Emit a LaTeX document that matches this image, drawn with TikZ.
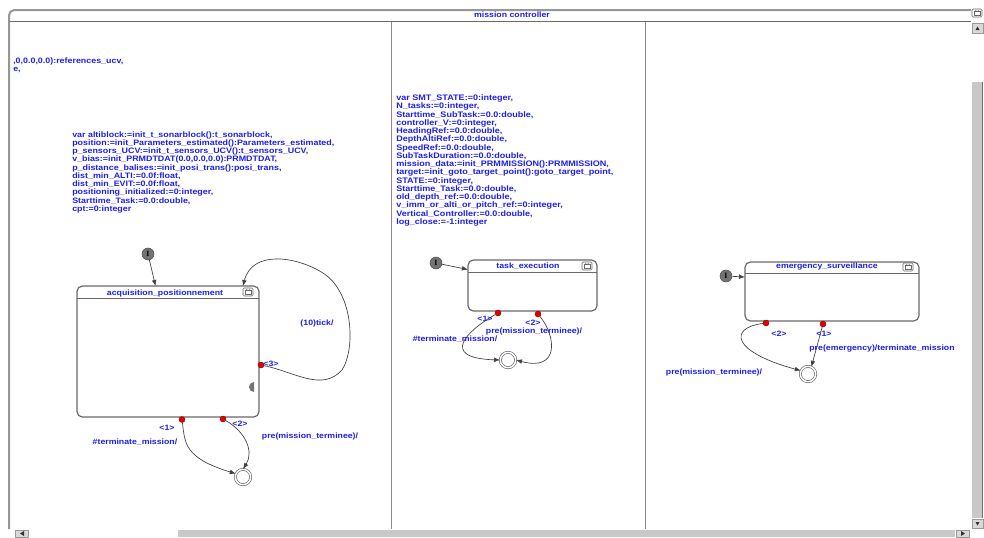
\documentclass[tikz,border=0pt]{standalone}
\usepackage{fontspec}
\usepackage{graphicx}
\setmainfont{Liberation Sans}
\newfontfamily\serifI{Liberation Serif}
\usetikzlibrary{arrows.meta}
\definecolor{txtblue}{RGB}{30,30,235}
\definecolor{boxgray}{RGB}{105,105,105}
\definecolor{framegray}{RGB}{150,150,150}
\definecolor{thumbgray}{RGB}{200,200,200}
\definecolor{initgray}{RGB}{115,115,115}
\definecolor{dotred}{RGB}{230,0,0}
\newcommand\hx[1]{\scalebox{1.13}[1]{#1}}
\newcommand\vlines[1]{\hx{\begin{tabular}{@{}l@{}}#1\end{tabular}}}
\begin{document}
\begin{tikzpicture}[x=0.75pt,y=-0.75pt,
  lbl/.style={text=txtblue,font=\fontsize{5.8}{6.5}\selectfont\bfseries,inner sep=0pt},
  varblock/.style={text=txtblue,anchor=north west,inner sep=0pt},
  statebox/.style={draw=boxgray,line width=0.9pt,rounded corners=4pt,inner sep=0pt},
  initnode/.style={circle,fill=initgray,draw=black!70,line width=0.4pt,minimum size=9pt,inner sep=0pt,font=\serifI\bfseries\fontsize{6}{6}\selectfont},
  finalnode/.style={circle,draw=boxgray,line width=0.5pt,double=white,double distance=1.1pt,minimum size=11.5pt,inner sep=0pt},
  reddot/.style={circle,fill=dotred,draw=red!50!black,line width=0.3pt,minimum size=4.5pt,inner sep=0pt},
  trans/.style={draw=black!75,line width=0.5pt,-{Latex[length=4.5pt,width=3.5pt]}},
  ico/.pic={\draw[boxgray,line width=0.4pt,rounded corners=1pt,fill=white] (-5,-4) rectangle (5,4);
            \draw[boxgray,line width=0.4pt] (-3,-1.5) rectangle (3,2.5); \draw[boxgray,line width=0.3pt] (-2,-3) -- (0,-1.5) -- (2,-3);}
]
\useasboundingbox (0,0) rectangle (984,537);
\fill[white] (0,0) rectangle (984,537);

% ---------- window frame ----------
\draw[framegray,line width=1.5pt,rounded corners=4pt] (9,529) -- (9,10) -- (971,10);
\draw[boxgray,line width=0.6pt] (10,21.5) -- (971,21.5);
\node[lbl] (title) at (512,15) {\hx{mission controller}};
\pic at (977,13) {ico};
\draw[black!45,line width=0.4pt] (391,22) -- (391,529);
\draw[black!45,line width=0.4pt] (645,22) -- (645,529);
% vertical scrollbar
\fill[thumbgray] (972,82) rectangle (982,518);
\draw[black!55,line width=0.5pt] (982,82) -- (982,518);
\draw[black!40,line width=0.4pt,fill=thumbgray!70] (972,23) rectangle (983,33);
\fill[black!80] (975.5,30) -- (979.5,30) -- (977.5,26.5) -- cycle;
\draw[black!40,line width=0.4pt,fill=thumbgray!70] (972,519) rectangle (983,528);
\fill[black!80] (975.5,522) -- (979.5,522) -- (977.5,525.5) -- cycle;
% horizontal scrollbar
\fill[thumbgray] (178,530) rectangle (955,537);
\draw[black!40,line width=0.4pt,fill=thumbgray!70] (15,530) rectangle (28,537);
\fill[black!80] (24,531) -- (24,536) -- (20,533.5) -- cycle;
\draw[black!40,line width=0.4pt,fill=thumbgray!70] (956,530) rectangle (969,537);
\fill[black!80] (961,531) -- (961,536) -- (965,533.5) -- cycle;

% ---------- top-left text ----------
\node[varblock,font=\fontsize{5.9}{6.2}\selectfont\bfseries] (reftxt) at (13,57.5) {\vlines{,0,0.0,0.0):references\_ucv,\\e,}};

% ---------- left variable block ----------
\node[varblock,font=\fontsize{5.9}{6.2}\selectfont\bfseries] (vars1) at (72,131) {\vlines{%
var altiblock:=init\_t\_sonarblock():t\_sonarblock,\\
position:=init\_Parameters\_estimated():Parameters\_estimated,\\
p\_sensors\_UCV:=init\_t\_sensors\_UCV():t\_sensors\_UCV,\\
v\_bias:=init\_PRMDTDAT(0.0,0.0,0.0):PRMDTDAT,\\
p\_distance\_balises:=init\_posi\_trans():posi\_trans,\\
dist\_min\_ALTI:=0.0f:float,\\
dist\_min\_EVIT:=0.0f:float,\\
positioning\_initialized:=0:integer,\\
Starttime\_Task:=0.0:double,\\
cpt:=0:integer}};

% ---------- middle variable block ----------
\node[varblock,font=\fontsize{6.0}{6.15}\selectfont\bfseries] (vars2) at (396,94.5) {\vlines{%
var SMT\_STATE:=0:integer,\\
N\_tasks:=0:integer,\\
Starttime\_SubTask:=0.0:double,\\
controller\_V:=0:integer,\\
HeadingRef:=0.0:double,\\
DepthAltiRef:=0.0:double,\\
SpeedRef:=0.0:double,\\
SubTaskDuration:=0.0:double,\\
mission\_data:=init\_PRMMISSION():PRMMISSION,\\
target:=init\_goto\_target\_point():goto\_target\_point,\\
STATE:=0:integer,\\
Starttime\_Task:=0.0:double,\\
old\_depth\_ref:=0.0:double,\\
v\_imm\_or\_alti\_or\_pitch\_ref:=0:integer,\\
Vertical\_Controller:=0.0:double,\\
log\_close:=-1:integer}};

% ---------- state 1: acquisition_positionnement ----------
\node[statebox,minimum width=136.5pt,minimum height=98.25pt] (s1) at (168,351.5) {};
\draw[boxgray,line width=0.6pt] (77,298) -- (259,298);
\node[lbl] (s1t) at (165,293) {\hx{acquisition\_positionnement}};
\pic at (248,292) {ico};
\fill[black!55] (254,392) arc[start angle=90,end angle=270,radius=5] -- cycle;
\node[initnode] (i1) at (148,254) {I};
\coordinate (e1) at (155.5,286);
\draw[trans] (i1) -- (e1);
\node[reddot] (d13) at (261,365) {};
\node[reddot] (d11) at (182,419.5) {};
\node[reddot] (d12) at (223,419) {};
\node[finalnode] (f1) at (243,477) {};
\coordinate (e13) at (243,286);
\draw[trans] (d13) .. controls (295,372) and (322,392) .. (342,370)
  .. controls (356,348) and (353,292) .. (323,273)
  .. controls (296,256) and (252,250) .. (e13);
\draw[trans] (d11) .. controls (185,443) and (184,458) .. (f1.155);
\draw[trans] (d12) .. controls (246,432) and (254,452) .. (f1.north);
\node[lbl] (l13) at (271,364) {\hx{<3>}};
\node[lbl] (l13b) at (317,323) {\hx{(10)tick/}};
\node[lbl] (l11) at (167,428) {\hx{<1>}};
\node[lbl] (l12) at (240,424) {\hx{<2>}};
\node[lbl] (l11b) at (135,442) {\hx{\#terminate\_mission/}};
\node[lbl] (l12b) at (310,436) {\hx{pre(mission\_terminee)/}};

% ---------- state 2: task_execution ----------
\node[statebox,minimum width=96.75pt,minimum height=38.25pt] (s2) at (532.5,285.5) {};
\draw[boxgray,line width=0.6pt] (468,272) -- (597,272);
\node[lbl] (s2t) at (528,266) {\hx{task\_execution}};
\pic at (587,266) {ico};
\node[initnode] (i2) at (436,263) {I};
\coordinate (e2) at (468,269.5);
\draw[trans] (i2) -- (e2);
\node[reddot] (d21) at (498,313) {};
\node[reddot] (d22) at (538,314) {};
\node[finalnode] (f2) at (508,360) {};
\draw[trans] (d21) .. controls (468,330) and (438,358) .. (f2.west);
\draw[trans] (d22) .. controls (556,336) and (560,372) .. (f2.east);
\node[lbl] (l21) at (485,319) {\hx{<1>}};
\node[lbl] (l22) at (533,322.5) {\hx{<2>}};
\node[lbl] (l22b) at (534,331) {\hx{pre(mission\_terminee)/}};
\node[lbl] (l21b) at (455,339) {\hx{\#terminate\_mission/}};

% ---------- state 3: emergency_surveillance ----------
\node[statebox,minimum width=130.5pt,minimum height=44.25pt] (s3) at (832,291.5) {};
\draw[boxgray,line width=0.6pt] (745,273) -- (919,273);
\node[lbl] (s3t) at (827,267) {\hx{emergency\_surveillance}};
\pic at (908,267) {ico};
\node[initnode] (i3) at (726,276) {I};
\coordinate (e3) at (745,277);
\draw[trans] (i3) -- (e3);
\node[reddot] (d32) at (766,323) {};
\node[reddot] (d31) at (823,324) {};
\node[finalnode] (f3) at (808,374) {};
\draw[trans] (d32) .. controls (728,328) and (732,352) .. (f3.155);
\draw[trans] (d31) -- (f3.65);
\node[lbl] (l32) at (779,334) {\hx{<2>}};
\node[lbl] (l31) at (824,334) {\hx{<1>}};
\node[lbl] (l31b) at (882,349) {\hx{pre(emergency)/terminate\_mission}};
\node[lbl] (l32b) at (714,372) {\hx{pre(mission\_terminee)/}};
\end{tikzpicture}
\end{document}
